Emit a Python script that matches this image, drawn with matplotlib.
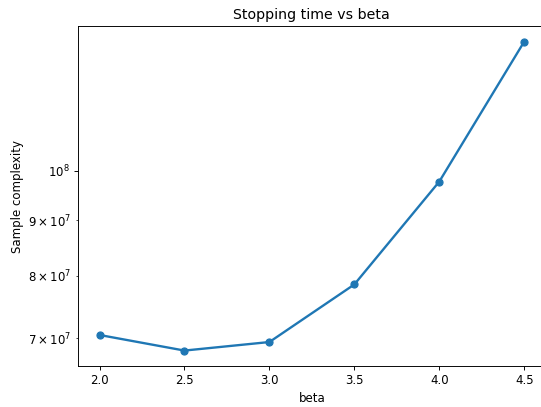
import matplotlib
matplotlib.use("Agg")
import matplotlib.pyplot as plt

beta = [2.0, 2.5, 3.0, 3.5, 4.0, 4.5]
sample_complexity = [7.05e7, 6.82e7, 6.945e7, 7.85e7, 9.77e7, 1.316e8]

dpi = 84.5
fig = plt.figure(figsize=(541 / dpi, 407 / dpi), dpi=dpi)
ax = fig.add_axes([0.1447, 0.1007, 0.8635, 0.835])
ax.plot(beta, sample_complexity, marker='o', linewidth=2)
ax.set_yscale('log')
ax.set_xlabel('beta')
ax.set_ylabel('Sample complexity')
ax.set_title('Stopping time vs beta')
fig.savefig('out.png', dpi=dpi)
